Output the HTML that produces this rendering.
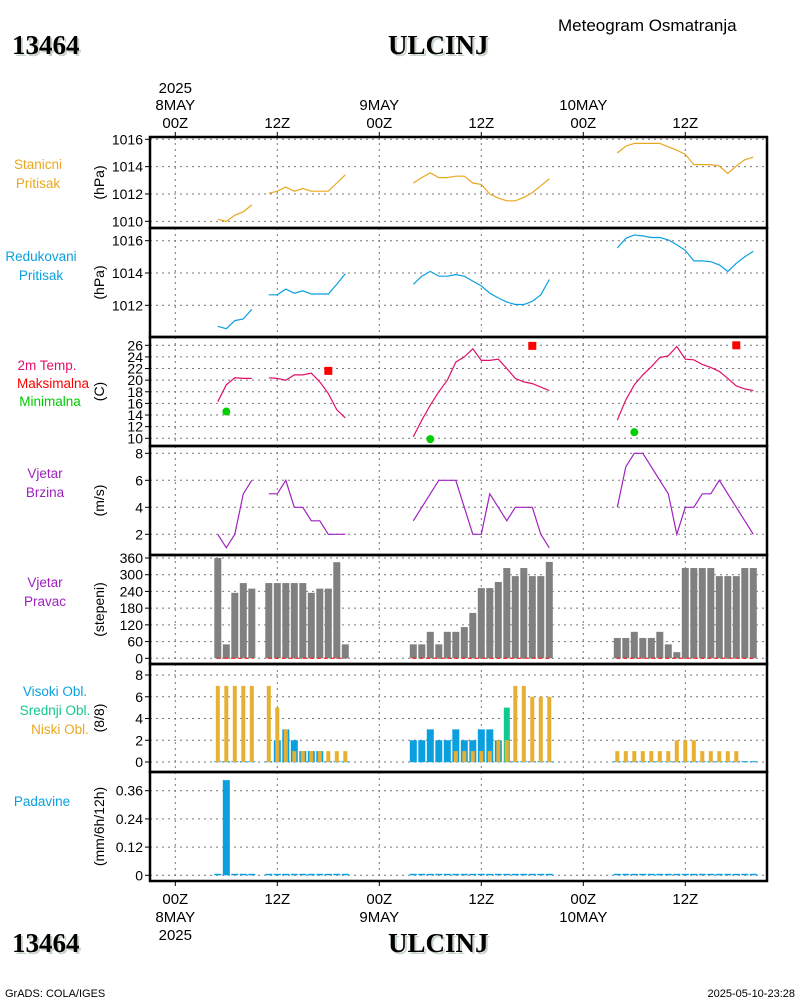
<!DOCTYPE html>
<html><head><meta charset="utf-8">
<style>
html,body{margin:0;padding:0;background:#fff;}
svg{display:block;}
text{font-family:"Liberation Sans",sans-serif;}
text.serif{font-family:"Liberation Serif",serif;}
</style></head>
<body>
<svg id="chart" width="800" height="1000" xmlns="http://www.w3.org/2000/svg">
<g>
<text x="558" y="31" font-size="17" fill="#000">Meteogram Osmatranja</text>
<text class="serif" x="14" y="56" font-size="27" font-weight="bold" fill="#c8d4c8">13464</text>
<text class="serif" x="12" y="54" font-size="27" font-weight="bold" fill="#000">13464</text>
<text class="serif" x="390" y="56" font-size="27" font-weight="bold" fill="#c8d4c8">ULCINJ</text>
<text class="serif" x="388" y="54" font-size="27" font-weight="bold" fill="#000">ULCINJ</text>
<text class="serif" x="14" y="954" font-size="27" font-weight="bold" fill="#c8d4c8">13464</text>
<text class="serif" x="12" y="952" font-size="27" font-weight="bold" fill="#000">13464</text>
<text class="serif" x="390" y="954" font-size="27" font-weight="bold" fill="#c8d4c8">ULCINJ</text>
<text class="serif" x="388" y="952" font-size="27" font-weight="bold" fill="#000">ULCINJ</text>
<text x="5" y="997" font-size="11" fill="#000">GrADS: COLA/IGES</text>
<text x="795" y="997" font-size="11" fill="#000" text-anchor="end">2025-05-10-23:28</text>
</g>
<g font-size="13.5" text-anchor="middle">
<text x="38" y="169" fill="#e8a820">Stanicni</text>
<text x="38" y="188" fill="#e8a820">Pritisak</text>
<text x="41" y="261" fill="#0aa0e0">Redukovani</text>
<text x="41" y="280" fill="#0aa0e0">Pritisak</text>
<text x="47" y="370" fill="#e0106a">2m Temp.</text>
<text x="53" y="388" fill="#ff0000">Maksimalna</text>
<text x="50" y="406" fill="#00c800">Minimalna</text>
<text x="45" y="478" fill="#a020c0">Vjetar</text>
<text x="45" y="497" fill="#a020c0">Brzina</text>
<text x="45" y="587" fill="#a020c0">Vjetar</text>
<text x="45" y="606" fill="#a020c0">Pravac</text>
<text x="55" y="696" fill="#0aa0e0">Visoki Obl.</text>
<text x="55" y="715" fill="#10c890">Srednji Obl.</text>
<text x="60" y="734" fill="#e8a820">Niski Obl.</text>
<text x="42" y="806" fill="#0aa0e0">Padavine</text>
</g>
<g id="plot"></g>
</svg>
<script>
var hours = [5,6,7,8,9, 11,12,13,14,15,16,17,18,19,20,
 28,29,30,31,32,33,34,35,36,37,38,39,40,41,42,43,44,
 52,53,54,55,56,57,58,59,60,61,62,63,64,65,66,67,68];
var stPres = [1010.15,1010.0,1010.45,1010.7,1011.2,
 1012.05,1012.2,1012.5,1012.2,1012.4,1012.2,1012.2,1012.2,1012.8,1013.4,
 1012.8,1013.2,1013.55,1013.2,1013.2,1013.3,1013.3,1012.8,1012.7,1012.0,1011.7,1011.5,1011.5,1011.75,1012.1,1012.6,1013.1,
 1015.0,1015.5,1015.7,1015.7,1015.7,1015.7,1015.45,1015.2,1014.9,1014.15,1014.15,1014.15,1014.05,1013.5,1014.05,1014.5,1014.7];
var redPres = [1010.7,1010.55,1011.05,1011.15,1011.75,
 1012.65,1012.65,1013.0,1012.75,1012.9,1012.7,1012.7,1012.7,1013.3,1013.95,
 1013.3,1013.8,1014.1,1013.8,1013.8,1013.9,1013.8,1013.5,1013.2,1012.75,1012.45,1012.2,1012.05,1012.05,1012.25,1012.65,1013.6,
 1015.55,1016.15,1016.35,1016.3,1016.2,1016.2,1016.05,1015.75,1015.4,1014.75,1014.75,1014.7,1014.5,1014.1,1014.6,1015.0,1015.35];
var temp = [16.3,19.2,20.4,20.3,20.3,
 20.4,20.3,20.0,20.9,20.9,21.2,19.7,17.7,14.9,13.5,
 10.25,13.1,15.7,18.0,20.0,23.1,24.0,25.4,23.4,23.4,23.6,22.0,20.3,19.7,19.4,18.8,18.2,
 13.1,16.6,19.2,20.9,22.3,23.9,24.2,25.8,23.6,23.5,22.7,22.2,21.5,20.3,19.0,18.5,18.2];
var maxHours = [18,42,66];
var maxTemp = [21.6,25.9,26.0];
var minHours = [6,30,54];
var minTemp = [14.6,9.85,11.05];
var windSpd = [2,1,2,5,6,
 5,5,6,4,4,3,3,2,2,2,
 3,4,5,6,6,6,4,2,2,5,4,3,4,4,4,2,1,
 4,7,8,8,7,6,5,2,4,4,5,5,6,5,4,3,2];
var windDir = [360,50,235,270,250,
 270,270,270,270,270,235,250,250,345,50,
 50,50,95,50,95,95,112,163,252,252,274,324,295,324,295,295,346,
 73,73,95,73,73,95,50,22,324,324,324,324,295,295,295,324,324];
var lowCloud = [7,7,7,7,7,
 7,5,3,1,1,1,1,1,1,1,
 0,0,0,0,0,1,1,1,1,1,2,2,7,7,6,6,6,
 1,1,1,1,1,1,1,2,2,2,1,1,1,1,1,0,0];
var midCloud = [0,0,0,0,0,
 0,0,0,0,0,0,0,0,0,0,
 0,0,0,0,0,0,0,0,0,0,0,5,0,0,0,0,0,
 0,0,0,0,0,0,0,0,0,0,0,0,0,0,0,0,0];
var highCloud = [0,0,0,0,0,
 0,2,3,2,1,1,1,0,0,0,
 2,2,3,2,2,3,2,2,3,3,2,0,0,0,0,0,0,
 0,0,0,0,0,0,0,0,0,0,0,0,0,0,0,0,0];
var precip = [0,0.405,0,0,0,
 0,0,0,0,0,0,0,0,0,0,
 0,0,0,0,0,0,0,0,0,0,0,0,0,0,0,0,0,
 0,0,0,0,0,0,0,0,0,0,0,0,0,0,0,0,0];
var timeTicks = [0,12,24,36,48,60];
var timeLabels = ["00Z","12Z","00Z","12Z","00Z","12Z"];
var dayLabels = ["8MAY","","9MAY","","10MAY",""];

var NS="http://www.w3.org/2000/svg";
var plot=document.getElementById('plot');
var L=150,R=767;
function X(h){return 175.3+h*8.5;}
function mk(tag,attrs,parent){var e=document.createElementNS(NS,tag);for(var k in attrs)e.setAttribute(k,attrs[k]);(parent||plot).appendChild(e);return e;}
var panels=[
 {name:'station-pressure',top:137,bot:228,v0:1016,y0:139.3,k:13.67,ticks:[1010,1012,1014,1016],unit:'(hPa)',dec:0},
 {name:'reduced-pressure',top:228,bot:337,v0:1016,y0:240.7,k:16.15,ticks:[1012,1014,1016],unit:'(hPa)',dec:0},
 {name:'temperature',top:337,bot:446,v0:26,y0:345.3,k:5.81,ticks:[10,12,14,16,18,20,22,24,26],unit:'(C)',dec:0},
 {name:'wind-speed',top:446,bot:555,v0:8,y0:453.3,k:13.5,ticks:[2,4,6,8],unit:'(m/s)',dec:0},
 {name:'wind-direction',top:555,bot:664,v0:360,y0:558,k:0.2786,ticks:[0,60,120,180,240,300,360],unit:'(stepeni)',dec:0},
 {name:'cloud-cover',top:664,bot:772,v0:8,y0:675,k:10.875,ticks:[0,2,4,6,8],unit:'(8/8)',dec:0},
 {name:'precipitation',top:772,bot:881,v0:0.36,y0:790.7,k:235,ticks:[0,0.12,0.24,0.36],unit:'(mm/6h/12h)',dec:2}
];
function Y(p,v){return p.y0+(p.v0-v)*p.k;}
panels.forEach(function(p){
 var g=mk('g',{});
 
 
 timeTicks.forEach(function(t){
  var l=mk('line',{x1:X(t),x2:X(t),y1:p.top,y2:p.bot,stroke:'#777','stroke-width':1,'stroke-dasharray':'2,4'},g);
  
  
 });
 p.ticks.forEach(function(v){
  var y=Y(p,v);
  var l=mk('line',{x1:L,x2:R,y1:y,y2:y,stroke:'#777','stroke-width':1,'stroke-dasharray':'2,4'},g);
  
  
  mk('line',{x1:L-5,x2:L,y1:y,y2:y,stroke:'#000','stroke-width':1},g);
  var lab=v===0?'0':(p.dec?v.toFixed(2):String(v));
  var t=mk('text',{x:L-7,y:y+5,'font-size':14,'text-anchor':'end',fill:'#000'},g);
  t.textContent=lab;
  
  
 });
 var cy=(p.top+p.bot)/2;
 var u=mk('text',{x:0,y:0,'font-size':14,'text-anchor':'middle',fill:'#000',transform:'translate(104,'+cy+') rotate(-90)'},g);
 u.textContent=p.unit;
 
 
 p.g=g;
});
function segs(){var s=[],cur=[];for(var i=0;i<hours.length;i++){if(i>0&&hours[i]!==hours[i-1]+1){s.push(cur);cur=[];}cur.push(i);}s.push(cur);return s;}
function drawLine(p,vals,color,name){
 segs().forEach(function(idx){
  var d=idx.map(function(i,j){return (j?'L':'M')+X(hours[i]).toFixed(1)+','+Y(p,vals[i]).toFixed(1);}).join(' ');
  var e=mk('path',{d:d,fill:'none',stroke:color,'stroke-width':1.2});
  
  
 });
}
drawLine(panels[0],stPres,'#e8a820','station-pressure-line');
drawLine(panels[1],redPres,'#0aa0e0','reduced-pressure-line');
drawLine(panels[2],temp,'#e0106a','temperature-line');
drawLine(panels[3],windSpd,'#a020c0','wind-speed-line');
maxHours.forEach(function(h,i){
 var e=mk('rect',{x:X(h)-4,y:Y(panels[2],maxTemp[i])-4,width:8,height:8,fill:'#f00'});
 
 
});
minHours.forEach(function(h,i){
 var e=mk('circle',{cx:X(h),cy:Y(panels[2],minTemp[i]),r:4,fill:'#00d000'});
 
 
});
var pd=panels[4];
hours.forEach(function(h,i){
 var y=Y(pd,windDir[i]),y0=Y(pd,0);
 var e=mk('rect',{x:X(h)-3.5,y:y,width:7,height:y0-y,fill:'#808080'});
 
 
});
segs().forEach(function(idx){
 var e=mk('line',{x1:X(hours[idx[0]])-1,x2:X(hours[idx[idx.length-1]])+1,y1:Y(pd,0),y2:Y(pd,0),stroke:'#f00','stroke-width':1,'stroke-dasharray':'4,3'});
 
 
});
var pc=panels[5];
hours.forEach(function(h,i){
 var y0=Y(pc,0);
 var b=mk('rect',{x:X(h)-3.5,y:y0-0.8,width:7,height:1,fill:'#0aa0e0'});
 
 
 if(highCloud[i]>0){var y=Y(pc,highCloud[i]);
  var e=mk('rect',{x:X(h)-3.5,y:y,width:7,height:y0-y,fill:'#0aa0e0'});
  
  }
 if(midCloud[i]>0){var y2=Y(pc,midCloud[i]);
  var m=mk('rect',{x:X(h)-3,y:y2,width:6,height:y0-y2,fill:'#10c890'});
  
  }
 if(lowCloud[i]>0){var y3=Y(pc,lowCloud[i]);
  var lo=mk('rect',{x:X(h)-2,y:y3,width:4,height:y0-y3,fill:'#e8b030'});
  
  }
});
var pp=panels[6];
hours.forEach(function(h,i){
 var y0=Y(pp,0),y=Y(pp,precip[i]);
 var e=mk('rect',{x:X(h)-3.5,y:Math.min(y,y0-1.5),width:7,height:Math.max(y0-y,1.5),fill:'#0aa0e0'});
 
 
});
panels.forEach(function(p){
 var r=mk('rect',{x:L,y:p.top,width:R-L,height:p.bot-p.top,fill:'none',stroke:'#000','stroke-width':2.5});
 
 
});
timeTicks.forEach(function(t,i){
 var x=X(t);
 mk('line',{x1:x,x2:x,y1:132,y2:137,stroke:'#000','stroke-width':1});
 mk('line',{x1:x,x2:x,y1:881,y2:886,stroke:'#000','stroke-width':1});
 var a=mk('text',{x:x,y:128,'font-size':15,'text-anchor':'middle'});
 a.textContent=timeLabels[i];
 
 
 var b=mk('text',{x:x,y:904,'font-size':15,'text-anchor':'middle'});
 b.textContent=timeLabels[i];
 
 
 if(dayLabels[i]){
  var c=mk('text',{x:x,y:110,'font-size':15,'text-anchor':'middle'});
  c.textContent=dayLabels[i];
  
  
  var d=mk('text',{x:x,y:922,'font-size':15,'text-anchor':'middle'});
  d.textContent=dayLabels[i];
  
  
 }
});
var y1=mk('text',{x:X(0),y:93,'font-size':15,'text-anchor':'middle'});
y1.textContent='2025';


var y2=mk('text',{x:X(0),y:940,'font-size':15,'text-anchor':'middle'});
y2.textContent='2025';


</script>
</body></html>
